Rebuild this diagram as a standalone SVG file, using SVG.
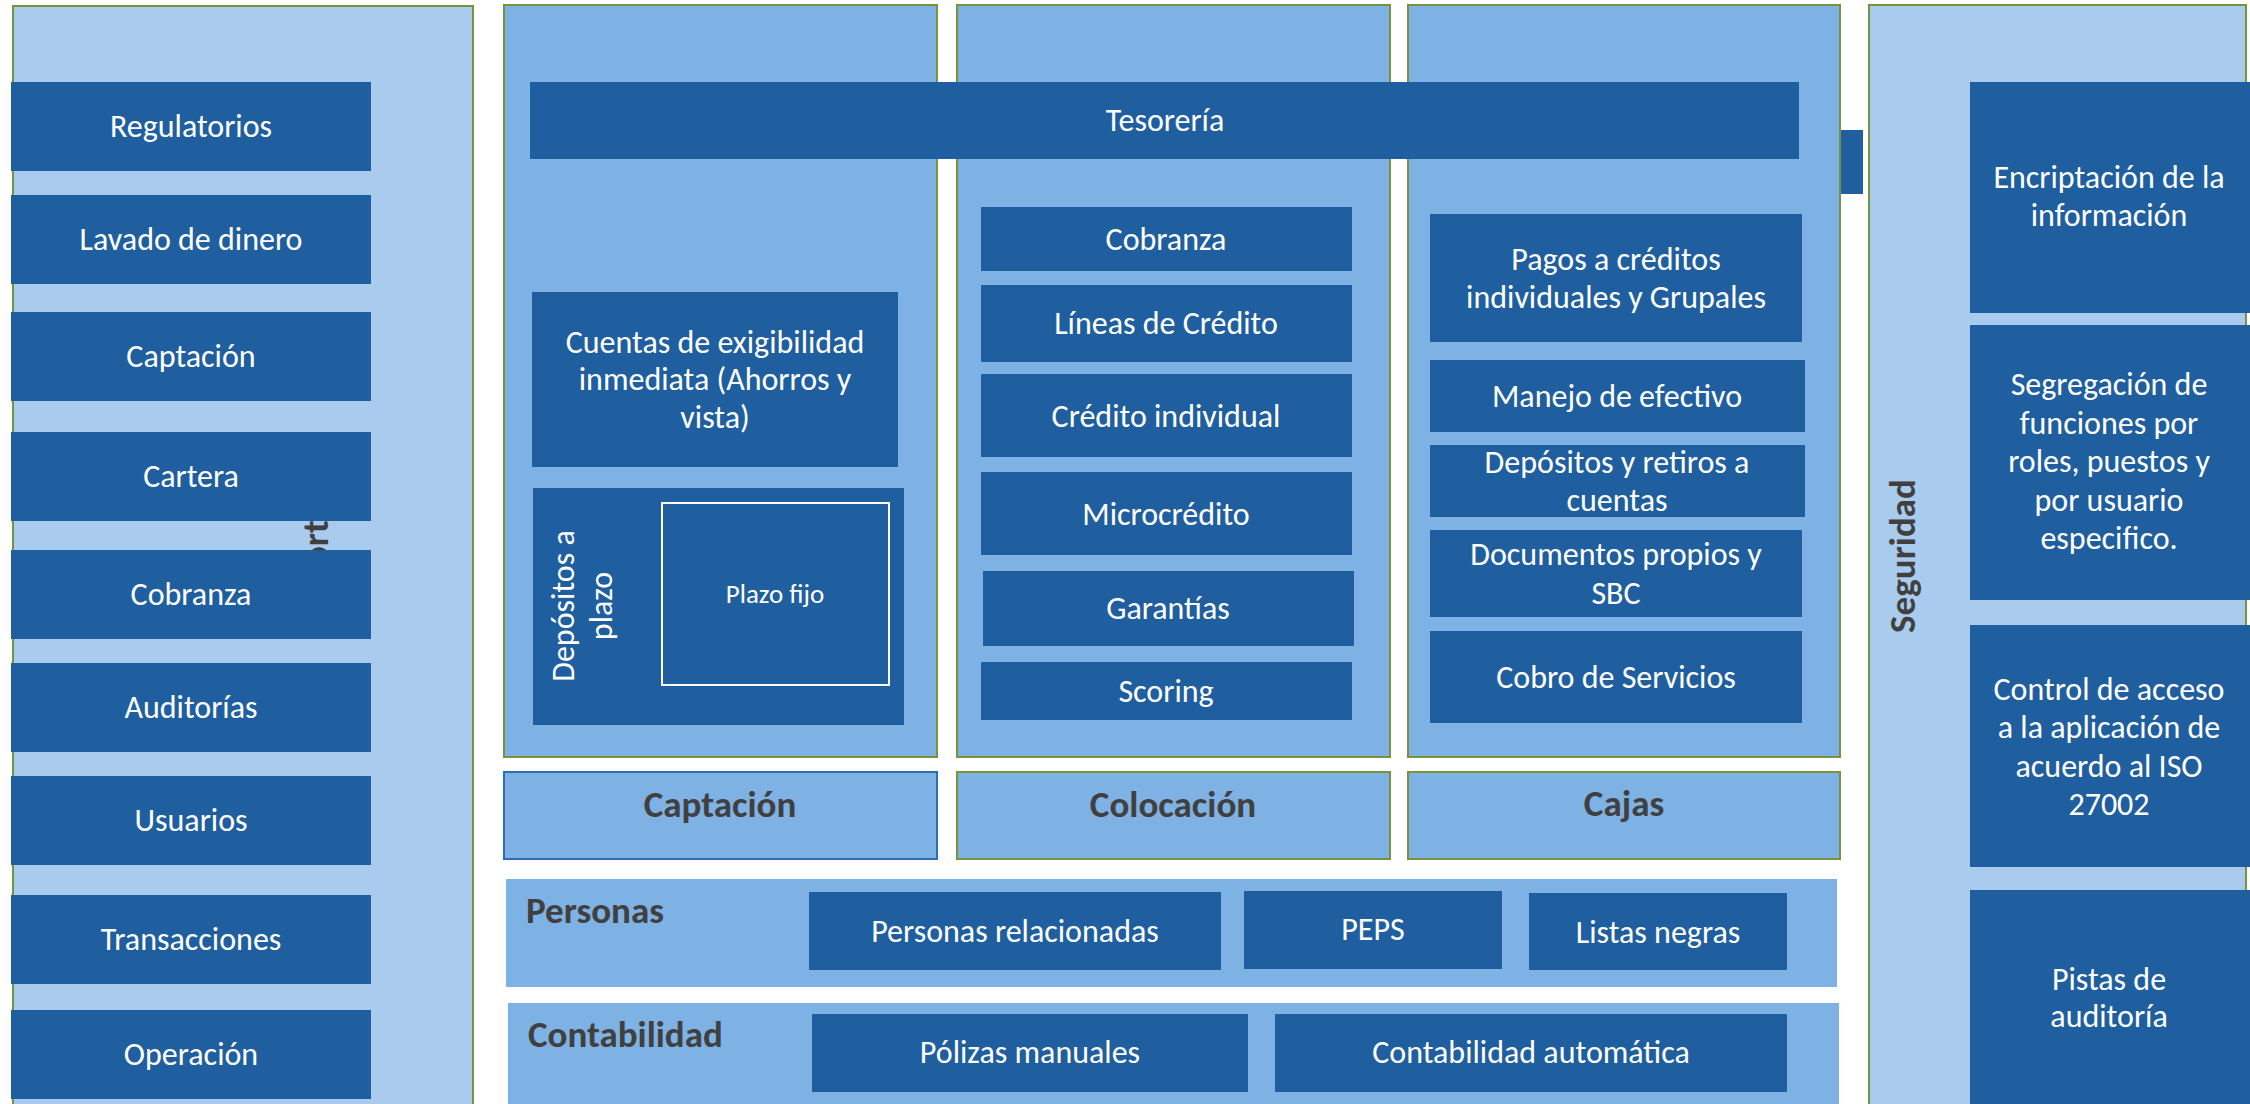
<svg xmlns="http://www.w3.org/2000/svg" width="2250" height="1104" viewBox="0 0 2250 1104">
<style>
  .bg { fill: #FFFFFF; }
  .light { fill: #A9CBEE; stroke: #77933C; stroke-width: 2; }
  .mid { fill: #7EB1E4; stroke: #77933C; stroke-width: 2; }
  .midb { fill: #7EB1E4; stroke: #2E6DB4; stroke-width: 2; }
  .band { fill: #7EB1E4; }
  .box { fill: #1F5F9F; }
  .frame { fill: none; stroke: #FFFFFF; stroke-width: 2; }
  text { font-family: Calibri, Carlito, Lato, "Liberation Sans", sans-serif; }
  .t { fill: #FFFFFF; font-size: 32px; text-anchor: middle; }
  .ts { fill: #FFFFFF; font-size: 27px; text-anchor: middle; }
  .h { fill: #404040; font-size: 37px; font-weight: bold; text-anchor: middle; }
  .hl { fill: #404040; font-size: 37px; font-weight: bold; }
</style>
<rect class="bg" x="0" y="0" width="2250" height="1104"/>

<g id="reportes">
  <rect class="light" x="13" y="6" width="460" height="1110"/>
  <text class="h" x="328" y="556" transform="rotate(-90 328 556)">Reportes</text>
</g>
<g id="rep-regulatorios"><rect class="box" x="11" y="82" width="360" height="89"/><text class="t" x="191" y="137">Regulatorios</text></g>
<g id="rep-lavado"><rect class="box" x="11" y="195" width="360" height="89"/><text class="t" x="191" y="250">Lavado de dinero</text></g>
<g id="rep-captacion"><rect class="box" x="11" y="312" width="360" height="89"/><text class="t" x="191" y="367">Captación</text></g>
<g id="rep-cartera"><rect class="box" x="11" y="432" width="360" height="89"/><text class="t" x="191" y="487">Cartera</text></g>
<g id="rep-cobranza"><rect class="box" x="11" y="550" width="360" height="89"/><text class="t" x="191" y="605">Cobranza</text></g>
<g id="rep-auditorias"><rect class="box" x="11" y="663" width="360" height="89"/><text class="t" x="191" y="718">Auditorías</text></g>
<g id="rep-usuarios"><rect class="box" x="11" y="776" width="360" height="89"/><text class="t" x="191" y="831">Usuarios</text></g>
<g id="rep-transacciones"><rect class="box" x="11" y="895" width="360" height="89"/><text class="t" x="191" y="950">Transacciones</text></g>
<g id="rep-operacion"><rect class="box" x="11" y="1010" width="360" height="89"/><text class="t" x="191" y="1065">Operación</text></g>

<g id="col-captacion"><rect class="mid" x="504" y="5" width="433" height="752"/></g>
<g id="col-colocacion"><rect class="mid" x="957" y="5" width="433" height="752"/></g>
<g id="col-cajas"><rect class="mid" x="1408" y="5" width="432" height="752"/></g>

<g id="tesoreria"><rect class="box" x="530" y="82" width="1269" height="77"/><text class="t" x="1165" y="131">Tesorería</text></g>
<g id="tab"><rect class="box" x="1841" y="130" width="22" height="64"/></g>

<g id="cuentas">
  <rect class="box" x="532" y="292" width="366" height="175"/>
  <text class="t" x="715" y="353">Cuentas de exigibilidad</text>
  <text class="t" x="715" y="390">inmediata (Ahorros y</text>
  <text class="t" x="715" y="428">vista)</text>
</g>
<g id="depositos-plazo">
  <rect class="box" x="533" y="488" width="371" height="237"/>
  <text class="t" x="574" y="606" transform="rotate(-90 574 606)">Depósitos a</text>
  <text class="t" x="612" y="606" transform="rotate(-90 612 606)">plazo</text>
</g>
<g id="plazo-fijo">
  <rect class="frame" x="662" y="503" width="227" height="182"/>
  <text class="ts" x="775" y="603">Plazo fijo</text>
</g>

<g id="col-cobranza"><rect class="box" x="981" y="207" width="371" height="64"/><text class="t" x="1166" y="250">Cobranza</text></g>
<g id="col-lineas"><rect class="box" x="981" y="285" width="371" height="77"/><text class="t" x="1166" y="334">Líneas de Crédito</text></g>
<g id="col-individual"><rect class="box" x="981" y="374" width="371" height="83"/><text class="t" x="1166" y="427">Crédito individual</text></g>
<g id="col-micro"><rect class="box" x="981" y="472" width="371" height="83"/><text class="t" x="1166" y="525">Microcrédito</text></g>
<g id="col-garantias"><rect class="box" x="983" y="571" width="371" height="75"/><text class="t" x="1168" y="619">Garantías</text></g>
<g id="col-scoring"><rect class="box" x="981" y="662" width="371" height="58"/><text class="t" x="1166" y="702">Scoring</text></g>

<g id="caj-pagos">
  <rect class="box" x="1430" y="214" width="372" height="128"/>
  <text class="t" x="1616" y="270">Pagos a créditos</text>
  <text class="t" x="1616" y="308">individuales y Grupales</text>
</g>
<g id="caj-manejo"><rect class="box" x="1430" y="360" width="375" height="72"/><text class="t" x="1617" y="407">Manejo de efectivo</text></g>
<g id="caj-depositos">
  <rect class="box" x="1430" y="445" width="375" height="72"/>
  <text class="t" x="1617" y="473">Depósitos y retiros a</text>
  <text class="t" x="1617" y="511">cuentas</text>
</g>
<g id="caj-documentos">
  <rect class="box" x="1430" y="530" width="372" height="87"/>
  <text class="t" x="1616" y="565">Documentos propios y</text>
  <text class="t" x="1616" y="604">SBC</text>
</g>
<g id="caj-cobro"><rect class="box" x="1430" y="631" width="372" height="92"/><text class="t" x="1616" y="688">Cobro de Servicios</text></g>

<g id="lbl-captacion"><rect class="midb" x="504" y="772" width="433" height="87"/><text class="h" x="720" y="817">Captación</text></g>
<g id="lbl-colocacion"><rect class="mid" x="957" y="772" width="433" height="87"/><text class="h" x="1173" y="817">Colocación</text></g>
<g id="lbl-cajas"><rect class="mid" x="1408" y="772" width="432" height="87"/><text class="h" x="1624" y="816">Cajas</text></g>

<g id="personas">
  <rect class="band" x="506" y="879" width="1331" height="108"/>
  <text class="hl" x="526" y="923">Personas</text>
</g>
<g id="per-relacionadas"><rect class="box" x="809" y="892" width="412" height="78"/><text class="t" x="1015" y="942">Personas relacionadas</text></g>
<g id="per-peps"><rect class="box" x="1244" y="891" width="258" height="78"/><text class="t" x="1373" y="940">PEPS</text></g>
<g id="per-listas"><rect class="box" x="1529" y="893" width="258" height="77"/><text class="t" x="1658" y="943">Listas negras</text></g>

<g id="contabilidad">
  <rect class="band" x="508" y="1003" width="1331" height="110"/>
  <text class="hl" x="528" y="1047">Contabilidad</text>
</g>
<g id="con-polizas"><rect class="box" x="812" y="1014" width="436" height="78"/><text class="t" x="1030" y="1063">Pólizas manuales</text></g>
<g id="con-automatica"><rect class="box" x="1275" y="1014" width="512" height="78"/><text class="t" x="1531" y="1063">Contabilidad automática</text></g>

<g id="seguridad">
  <rect class="light" x="1869" y="5" width="377" height="1110"/>
  <text class="h" x="1915" y="556" transform="rotate(-90 1915 556)">Seguridad</text>
</g>
<g id="seg-encriptacion">
  <rect class="box" x="1970" y="82" width="280" height="231"/>
  <text class="t" x="2109" y="188">Encriptación de la</text>
  <text class="t" x="2109" y="226">información</text>
</g>
<g id="seg-segregacion">
  <rect class="box" x="1970" y="325" width="280" height="275"/>
  <text class="t" x="2109" y="395">Segregación de</text>
  <text class="t" x="2109" y="434">funciones por</text>
  <text class="t" x="2109" y="472">roles, puestos y</text>
  <text class="t" x="2109" y="511">por usuario</text>
  <text class="t" x="2109" y="549">especifico.</text>
</g>
<g id="seg-control">
  <rect class="box" x="1970" y="625" width="280" height="242"/>
  <text class="t" x="2109" y="700">Control de acceso</text>
  <text class="t" x="2109" y="738">a la aplicación de</text>
  <text class="t" x="2109" y="777">acuerdo al ISO</text>
  <text class="t" x="2109" y="815">27002</text>
</g>
<g id="seg-pistas">
  <rect class="box" x="1970" y="890" width="280" height="230"/>
  <text class="t" x="2109" y="990">Pistas de</text>
  <text class="t" x="2109" y="1027">auditoría</text>
</g>

<g id="connectors"/>
</svg>
